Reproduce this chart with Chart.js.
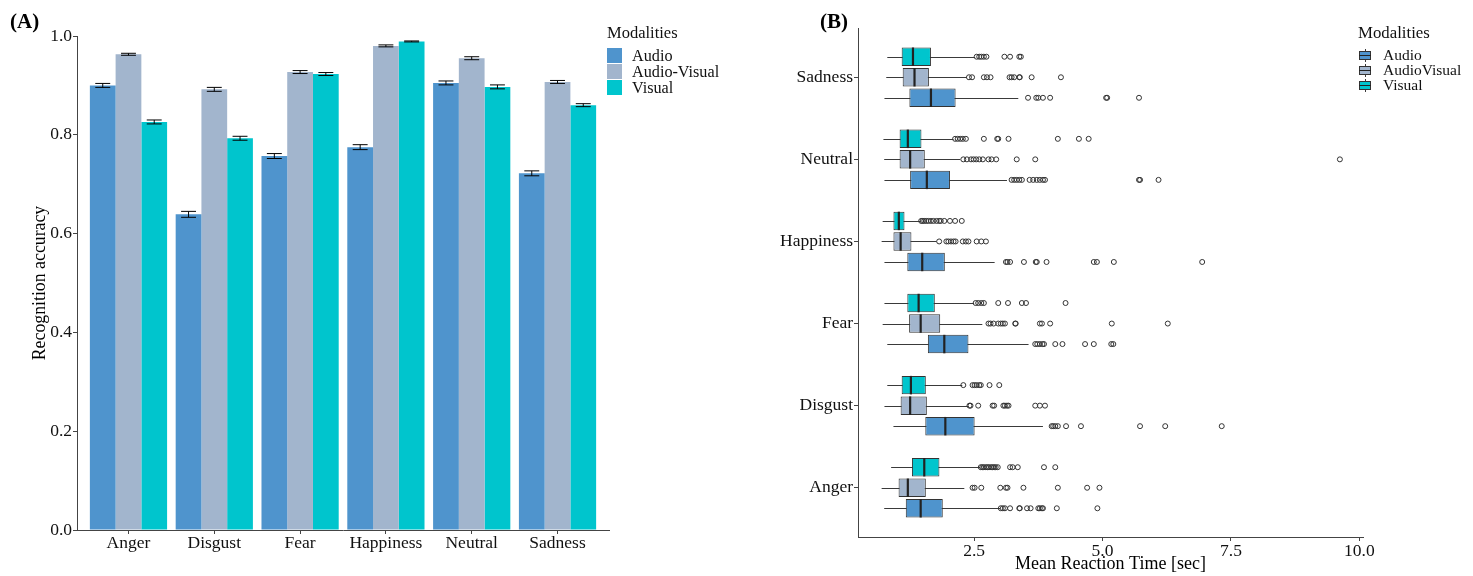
<!DOCTYPE html>
<html>
<head>
<meta charset="utf-8">
<script src="https://cdn.jsdelivr.net/npm/chart.js@4.4.1/dist/chart.umd.min.js"></script>
<style>
  body { margin: 0; background: #fff; }
  #wrap { position: relative; width: 1473px; height: 576px; overflow: hidden; font-family: 'Liberation Serif', serif; color: #111; }
  canvas { position: absolute; top: 0; }
  .tag { position: absolute; font-weight: bold; font-size: 21px; line-height: 24px; color: #000; }
  .lt { position: absolute; white-space: nowrap; }
</style>
</head>
<body>
<div id="wrap">
  <canvas id="accChart" width="740" height="576" style="left:0"></canvas>
  <canvas id="rtChart" width="733" height="576" style="left:740px"></canvas>
  <div class="tag" style="left:10px;top:9px">(A)</div>
  <div class="tag" style="left:820px;top:9px">(B)</div>
</div>
<script>
// categories
var emotions = ['Anger', 'Disgust', 'Fear', 'Happiness', 'Neutral', 'Sadness'];
var modalities = ['Audio', 'Audio-Visual', 'Visual'];
var modalitiesB = ['Audio', 'AudioVisual', 'Visual'];
var colors = ['#4F94CD', '#A2B5CD', '#00C5CD'];

// (A) recognition accuracy, mean and standard error
var accAudio  = [0.900, 0.639, 0.757, 0.775, 0.905, 0.722];
var accAV     = [0.963, 0.892, 0.927, 0.980, 0.955, 0.907];
var accVisual = [0.826, 0.793, 0.923, 0.989, 0.897, 0.860];
var seAudio   = [0.004, 0.006, 0.005, 0.005, 0.004, 0.005];
var seAV      = [0.002, 0.004, 0.003, 0.002, 0.003, 0.003];
var seVisual  = [0.004, 0.004, 0.003, 0.001, 0.004, 0.003];
var accTicks  = [0, 0.2, 0.4, 0.6, 0.8, 1.0];

// (B) reaction time box plots: whisker low, q1, median, q3, whisker high
var rtAudioLo   = [0.75, 0.93, 0.81, 0.755, 0.755, 0.755];
var rtAudioQ1   = [1.17, 1.55, 1.60, 1.20, 1.255, 1.24];
var rtAudioMed  = [1.46, 1.94, 1.92, 1.49, 1.58, 1.66];
var rtAudioQ3   = [1.89, 2.51, 2.39, 1.93, 2.03, 2.14];
var rtAudioHi   = [3.01, 3.84, 3.56, 2.90, 3.14, 3.36];
var rtAudioOut  = [
  [3.02, 3.06, 3.10, 3.20, 3.38, 3.39, 3.53, 3.60, 3.75, 3.78, 3.82, 3.84, 4.11, 4.90],
  [4.01, 4.04, 4.08, 4.13, 4.29, 4.58, 5.73, 6.22, 7.32],
  [3.69, 3.73, 3.78, 3.83, 3.86, 4.08, 4.22, 4.66, 4.83, 5.17, 5.21],
  [3.12, 3.15, 3.20, 3.47, 3.70, 3.72, 3.91, 4.83, 4.89, 5.22, 6.94],
  [3.23, 3.28, 3.33, 3.38, 3.43, 3.58, 3.65, 3.72, 3.78, 3.84, 3.88, 5.71, 5.73, 6.09],
  [3.55, 3.71, 3.75, 3.84, 3.98, 5.07, 5.09, 5.71]
];
var rtAVLo   = [0.70, 0.755, 0.72, 0.70, 0.75, 0.79];
var rtAVQ1   = [1.03, 1.07, 1.235, 0.93, 1.05, 1.11];
var rtAVMed  = [1.21, 1.255, 1.46, 1.07, 1.255, 1.34];
var rtAVQ3   = [1.56, 1.58, 1.84, 1.28, 1.54, 1.62];
var rtAVHi   = [2.31, 2.39, 2.66, 1.77, 2.23, 2.36];
var rtAVOut  = [
  [2.47, 2.51, 2.64, 3.01, 3.12, 3.15, 3.46, 4.13, 4.70, 4.94],
  [2.41, 2.43, 2.58, 2.86, 2.89, 3.07, 3.10, 3.14, 3.17, 3.69, 3.78, 3.88],
  [2.78, 2.82, 2.88, 2.97, 3.02, 3.06, 3.10, 3.30, 3.31, 3.78, 3.82, 3.98, 5.18, 6.27],
  [1.82, 1.96, 2.00, 2.05, 2.10, 2.14, 2.28, 2.34, 2.39, 2.55, 2.64, 2.73],
  [2.29, 2.36, 2.44, 2.49, 2.54, 2.60, 2.67, 2.78, 2.84, 2.93, 3.33, 3.69, 9.62],
  [2.40, 2.46, 2.69, 2.75, 2.82, 3.19, 3.23, 3.28, 3.38, 3.39, 3.62, 4.19]
];
var rtVisualLo   = [0.885, 0.81, 0.755, 0.72, 0.735, 0.81];
var rtVisualQ1   = [1.29, 1.09, 1.20, 0.93, 1.05, 1.09];
var rtVisualMed  = [1.53, 1.27, 1.42, 1.035, 1.21, 1.31];
var rtVisualQ3   = [1.825, 1.56, 1.735, 1.145, 1.475, 1.66];
var rtVisualHi   = [2.62, 2.27, 2.50, 1.45, 2.10, 2.52];
var rtVisualOut  = [
  [2.63, 2.66, 2.69, 2.73, 2.76, 2.79, 2.83, 2.86, 2.89, 2.92, 2.96, 3.20, 3.25, 3.35, 3.86, 4.08],
  [2.29, 2.47, 2.51, 2.55, 2.60, 2.63, 2.80, 2.99],
  [2.53, 2.58, 2.64, 2.69, 2.97, 3.16, 3.43, 3.51, 4.28],
  [1.47, 1.50, 1.53, 1.57, 1.61, 1.66, 1.71, 1.77, 1.82, 1.85, 1.92, 2.03, 2.13, 2.26],
  [2.13, 2.18, 2.23, 2.28, 2.34, 2.69, 2.95, 2.97, 3.17, 4.13, 4.54, 4.73],
  [2.55, 2.60, 2.64, 2.69, 2.74, 3.09, 3.20, 3.38, 3.41]
];
var rtTicks = [2.5, 5.0, 7.5, 10.0];

var serif = 'Liberation Serif';
var tickFont = { family: serif, size: 17.5 };
var axisGrey = '#444';

function catTicks(s) {
  s.ticks = emotions.map(function (e, i) { return { value: i + 1 }; });
}

// ---------- (A) bar chart with error bars ----------
var errorBars = {
  id: 'errorBars',
  afterDatasetsDraw: function (chart) {
    var ctx = chart.ctx, y = chart.scales.y;
    ctx.save();
    ctx.strokeStyle = '#000';
    ctx.lineWidth = 1;
    chart.data.datasets.forEach(function (ds, di) {
      chart.getDatasetMeta(di).data.forEach(function (bar, i) {
        var v = ds.data[i].y, e = ds.err[i];
        var top = y.getPixelForValue(v + e), bot = y.getPixelForValue(v - e);
        var half = bar.width * 0.29;
        ctx.beginPath();
        ctx.moveTo(bar.x, top); ctx.lineTo(bar.x, bot);
        ctx.moveTo(bar.x - half, top); ctx.lineTo(bar.x + half, top);
        ctx.moveTo(bar.x - half, bot); ctx.lineTo(bar.x + half, bot);
        ctx.stroke();
      });
    });
    ctx.restore();
  }
};

function barData(vals) {
  return vals.map(function (v, i) { return { x: i + 1, y: v }; });
}

var accSeries = [accAudio, accAV, accVisual];
var seSeries = [seAudio, seAV, seVisual];

new Chart(document.getElementById('accChart').getContext('2d'), {
  type: 'bar',
  data: {
    datasets: accSeries.map(function (vals, k) {
      return {
        label: modalities[k],
        data: barData(vals),
        err: seSeries[k],
        backgroundColor: colors[k],
        borderWidth: 0,
        categoryPercentage: 0.9,
        barPercentage: 1.0
      };
    })
  },
  options: {
    responsive: false,
    animation: false,
    devicePixelRatio: 1,
    layout: { padding: { left: 0, right: 131, top: 36, bottom: 0 } },
    plugins: { legend: { display: false }, tooltip: { enabled: false } },
    scales: {
      x: {
        type: 'linear', min: 0.4, max: 6.6, offset: false,
        afterBuildTicks: catTicks,
        afterFit: function (s) { s.height = 46; },
        ticks: {
          autoSkip: false, maxRotation: 0, padding: -1.5,
          font: tickFont, color: '#111',
          callback: function (v) { return emotions[v - 1]; }
        },
        grid: { display: true, drawOnChartArea: false, drawTicks: true, tickLength: 4, color: axisGrey, offset: false },
        border: { display: true, color: axisGrey, width: 1 }
      },
      y: {
        type: 'linear', min: 0, max: 1.0,
        afterBuildTicks: function (s) { s.ticks = accTicks.map(function (v) { return { value: v }; }); },
        afterFit: function (s) { s.width = 77; },
        ticks: {
          padding: 1, font: tickFont, color: '#111',
          callback: function (v) { return v.toFixed(1); }
        },
        title: {
          display: true, text: 'Recognition accuracy', color: '#000',
          font: { family: serif, size: 17.8 }, padding: { top: 30, bottom: 0 }
        },
        grid: { display: true, drawOnChartArea: false, drawTicks: true, tickLength: 4, color: axisGrey },
        border: { display: true, color: axisGrey, width: 1 }
      }
    }
  },
  plugins: [errorBars]
});

// ---------- (B) horizontal box plots ----------
// datasets listed top-to-bottom within each group: Visual, AudioVisual, Audio
var boxes = [
  { name: 2, lo: rtVisualLo, q1: rtVisualQ1, med: rtVisualMed, q3: rtVisualQ3, hi: rtVisualHi, out: rtVisualOut, shift: 0.25 },
  { name: 1, lo: rtAVLo, q1: rtAVQ1, med: rtAVMed, q3: rtAVQ3, hi: rtAVHi, out: rtAVOut, shift: 0 },
  { name: 0, lo: rtAudioLo, q1: rtAudioQ1, med: rtAudioMed, q3: rtAudioQ3, hi: rtAudioHi, out: rtAudioOut, shift: -0.25 }
];

var boxParts = {
  id: 'boxParts',
  beforeDatasetsDraw: function (chart) {
    var ctx = chart.ctx, x = chart.scales.x;
    ctx.save();
    ctx.strokeStyle = '#3a3a3a';
    ctx.lineWidth = 1;
    chart.data.datasets.forEach(function (ds, di) {
      if (ds.type !== 'bar') return;
      chart.getDatasetMeta(di).data.forEach(function (el, i) {
        var yy = Math.round(el.y) + 0.5;
        ctx.beginPath();
        ctx.moveTo(x.getPixelForValue(ds.lo[i]), yy);
        ctx.lineTo(x.getPixelForValue(ds.hi[i]), yy);
        ctx.stroke();
      });
    });
    ctx.restore();
  },
  afterDatasetsDraw: function (chart) {
    var ctx = chart.ctx, x = chart.scales.x;
    ctx.save();
    ctx.strokeStyle = '#222';
    ctx.lineWidth = 2.2;
    chart.data.datasets.forEach(function (ds, di) {
      if (ds.type !== 'bar') return;
      chart.getDatasetMeta(di).data.forEach(function (el, i) {
        var px = x.getPixelForValue(ds.med[i]);
        ctx.beginPath();
        ctx.moveTo(px, el.y - el.height / 2);
        ctx.lineTo(px, el.y + el.height / 2);
        ctx.stroke();
      });
    });
    ctx.restore();
  }
};

var rtDatasets = boxes.map(function (b) {
  return {
    type: 'bar',
    label: modalitiesB[b.name],
    data: b.q1.map(function (q, i) { return { y: i + 1, x: [q, b.q3[i]] }; }),
    lo: b.lo, hi: b.hi, med: b.med,
    backgroundColor: colors[b.name],
    borderColor: '#333',
    borderWidth: 1,
    borderSkipped: false,
    categoryPercentage: 0.75,
    barPercentage: 0.9
  };
});
boxes.forEach(function (b) {
  var pts = [];
  b.out.forEach(function (vals, i) {
    vals.forEach(function (v) { pts.push({ x: v, y: i + 1 + b.shift }); });
  });
  rtDatasets.push({
    type: 'scatter',
    label: modalitiesB[b.name] + ' outliers',
    data: pts,
    pointRadius: 2.5,
    pointBorderWidth: 1,
    pointBorderColor: '#333',
    pointBackgroundColor: 'rgba(0,0,0,0)'
  });
});

new Chart(document.getElementById('rtChart').getContext('2d'), {
  type: 'bar',
  data: { datasets: rtDatasets },
  options: {
    indexAxis: 'y',
    responsive: false,
    animation: false,
    devicePixelRatio: 1,
    layout: { padding: { left: 0, right: 110, top: 28, bottom: 0 } },
    plugins: { legend: { display: false }, tooltip: { enabled: false } },
    scales: {
      x: {
        type: 'linear', min: 0.24, max: 10.07, offset: false,
        afterBuildTicks: function (s) { s.ticks = rtTicks.map(function (v) { return { value: v }; }); },
        afterFit: function (s) { s.height = 39; },
        ticks: {
          padding: 0, maxRotation: 0, font: tickFont, color: '#111',
          callback: function (v) { return v.toFixed(1); }
        },
        title: {
          display: true, text: 'Mean Reaction Time [sec]', color: '#000',
          font: { family: serif, size: 18 }, padding: { top: 0, bottom: 1 }
        },
        grid: { display: true, drawOnChartArea: false, drawTicks: true, tickLength: 4, color: axisGrey },
        border: { display: true, color: axisGrey, width: 1 }
      },
      y: {
        type: 'linear', min: 0.4, max: 6.6, offset: false,
        afterBuildTicks: catTicks,
        afterFit: function (s) { s.width = 118; },
        ticks: {
          autoSkip: false, padding: 1, font: tickFont, color: '#111',
          callback: function (v) { return emotions[v - 1]; }
        },
        grid: { display: true, drawOnChartArea: false, drawTicks: true, tickLength: 4, color: axisGrey, offset: false },
        border: { display: true, color: axisGrey, width: 1 }
      }
    }
  },
  plugins: [boxParts]
});

// ---------- legends ----------
var wrap = document.getElementById('wrap');
function addText(txt, left, centerY, size) {
  var d = document.createElement('div');
  d.className = 'lt';
  d.textContent = txt;
  d.style.left = left + 'px';
  d.style.top = (centerY - 10) + 'px';
  d.style.lineHeight = '20px';
  d.style.fontSize = size + 'px';
  wrap.appendChild(d);
}
function addBox(left, top, w, h, bg, border) {
  var d = document.createElement('div');
  d.style.position = 'absolute';
  d.style.left = left + 'px';
  d.style.top = top + 'px';
  d.style.width = w + 'px';
  d.style.height = h + 'px';
  d.style.background = bg;
  if (border) { d.style.boxSizing = 'border-box'; d.style.border = border; }
  wrap.appendChild(d);
}

// legend (A)
addText('Modalities', 607, 33, 16.5);
modalities.forEach(function (m, k) {
  addBox(607, 48 + k * 16, 15, 15, colors[k]);
  addText(m, 632, 56 + k * 15.8, 16.2);
});

// legend (B)
addText('Modalities', 1358, 33, 16.8);
modalitiesB.forEach(function (m, k) {
  var cy = 55.3 + k * 14.9;
  addBox(1364.5, cy - 6.5, 1, 13, '#3a3a3a');
  addBox(1359, cy - 4.5, 12, 9, colors[k], '1px solid #333');
  addBox(1359, cy - 0.5, 12, 1.4, '#222');
  addText(m, 1383, cy, 15.5);
});
</script>
</body>
</html>
